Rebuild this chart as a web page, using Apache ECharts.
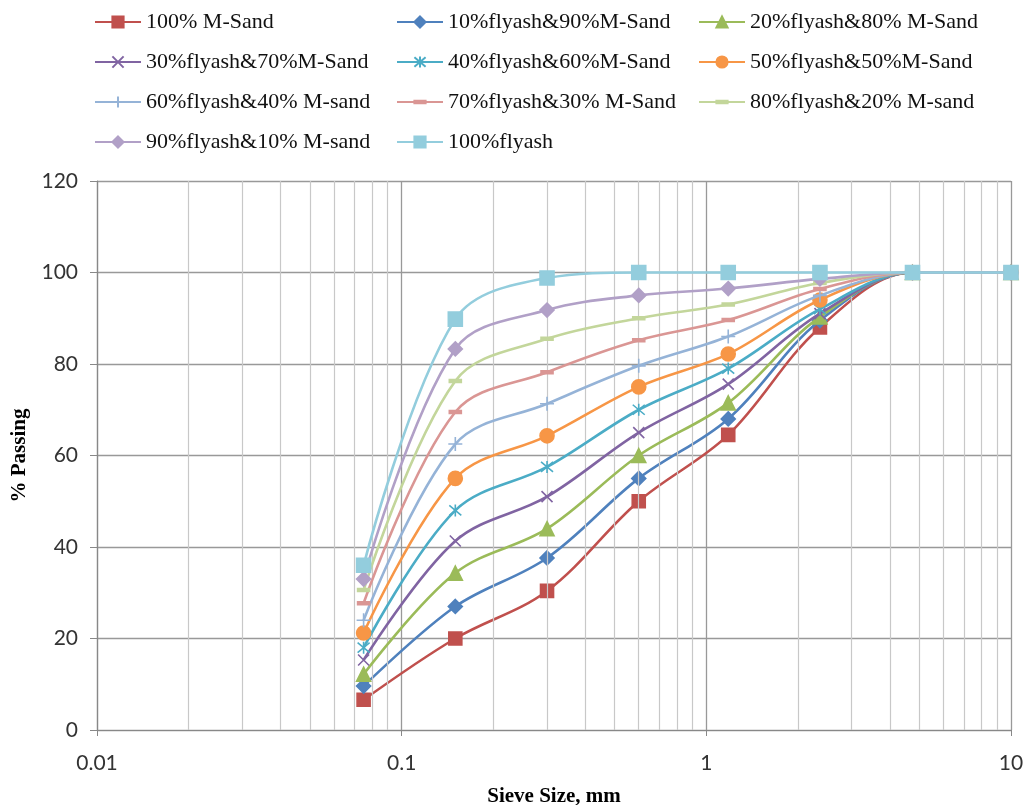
<!DOCTYPE html>
<html>
<head>
<meta charset="utf-8">
<script src="https://cdn.jsdelivr.net/npm/echarts@6/dist/echarts.min.js"></script>
<style>
html,body{margin:0;padding:0;background:#fff;}
#chart{width:1025px;height:805px;}
</style>
</head>
<body>
<div id="chart"></div>
<script>
// Sieve sizes (mm)
const sieveSizes = [0.075, 0.15, 0.3, 0.6, 1.18, 2.36, 4.75, 10];

// % passing for each blend
const mSand100   = [6.6, 20, 30.4, 50, 64.5, 88, 100, 100];
const fa10ms90   = [9.6, 27, 37.6, 55, 68, 89.5, 100, 100];
const fa20ms80   = [12.2, 34.3, 44, 60, 71.5, 90.3, 100, 100];
const fa30ms70   = [15.3, 41.3, 51, 65, 75.6, 91, 100, 100];
const fa40ms60   = [18, 48, 57.5, 70, 79, 92, 100, 100];
const fa50ms50   = [21.2, 55, 64.3, 75, 82.2, 94, 100, 100];
const fa60ms40   = [24, 62.5, 71.3, 79.6, 86, 95, 100, 100];
const fa70ms30   = [27.7, 69.5, 78.2, 85.2, 89.6, 96.4, 100, 100];
const fa80ms20   = [30.6, 76.3, 85.5, 90, 93, 97.7, 100, 100];
const fa90ms10   = [33, 83.3, 91.8, 95, 96.5, 98.6, 100, 100];
const flyash100  = [36, 89.8, 98.8, 100, 100, 100, 100, 100];

const seriesNames = [
  '100% M-Sand', '10%flyash&90%M-Sand', '20%flyash&80% M-Sand',
  '30%flyash&70%M-Sand', '40%flyash&60%M-Sand', '50%flyash&50%M-Sand',
  '60%flyash&40% M-sand', '70%flyash&30% M-Sand', '80%flyash&20% M-sand',
  '90%flyash&10% M-sand', '100%flyash'
];
const seriesValues = [mSand100, fa10ms90, fa20ms80, fa30ms70, fa40ms60, fa50ms50,
  fa60ms40, fa70ms30, fa80ms20, fa90ms10, flyash100];

const colors = ['#C0504D', '#4F81BD', '#9BBB59', '#8064A2', '#4BACC6', '#F79646',
  '#95B3D7', '#DA9694', '#C3D69B', '#B1A0C7', '#93CDDD'];

// thin horizontal bar inside a square box, so it keeps its shape in the legend too
const dashPath = 'path://M0,0M0,3.8L10,3.8L10,6.2L0,6.2ZM10,10';
const symbols = [
  {symbol: 'rect', size: 13},
  {symbol: 'diamond', size: 14},
  {symbol: 'triangle', size: 14},
  {symbol: 'path://M0,0L10,10M10,0L0,10', size: 11},
  {symbol: 'path://M0,0L10,10M10,0L0,10M5,-1L5,11', size: 12},
  {symbol: 'circle', size: 14},
  {symbol: 'path://M5,0L5,10M0,5L10,5', size: 14},
  {symbol: dashPath, size: 12},
  {symbol: dashPath, size: 12},
  {symbol: 'diamond', size: 14},
  {symbol: 'rect', size: 14}
];

// minor log gridlines (2..9 within each decade)
const minorGrid = [];
for (const d of [0.01, 0.1, 1]) {
  for (let k = 2; k <= 9; k++) minorGrid.push(+(d * k).toPrecision(3));
}

const chart = echarts.init(document.getElementById('chart'));

const series = seriesNames.map((name, i) => ({
  name: name,
  type: 'line',
  smooth: 0.35,
  data: sieveSizes.map((x, j) => [x, seriesValues[i][j]]),
  symbol: symbols[i].symbol,
  symbolSize: symbols[i].size,
  lineStyle: {color: colors[i], width: 2.6},
  itemStyle: {color: colors[i], borderColor: colors[i], borderWidth: 1.6},
  emphasis: {disabled: true},
  z: 3 + i
}));

series.push({
  name: 'grid',
  type: 'line',
  data: [],
  silent: true,
  z: 1,
  markLine: {
    silent: true,
    symbol: 'none',
    label: {show: false},
    lineStyle: {color: '#C8C8C8', width: 1.2, type: 'solid'},
    data: minorGrid.map(v => ({xAxis: v}))
  }
});

const legendFont = {fontFamily: 'Liberation Serif', fontSize: 22, lineHeight: 22, color: '#111'};
const legendCols = [[0, 3, 6, 9], [1, 4, 7, 10], [2, 5, 8]];
const legendLeft = [89, 391, 693];

const legends = legendCols.map((col, c) => ({
  orient: 'vertical',
  left: legendLeft[c],
  top: 6,
  itemWidth: 46,
  itemHeight: 14,
  itemGap: 18,
  textStyle: legendFont,
  data: col.map(i => seriesNames[i]),
  selectedMode: false
}));

const tickFont = {fontFamily: 'Lato', fontSize: 21, color: '#333'};
const titleFont = {fontFamily: 'Liberation Serif', fontWeight: 'bold', fontSize: 21, color: '#000'};

chart.setOption({
  animation: false,
  backgroundColor: '#fff',
  legend: legends,
  grid: {left: 97, right: 14, top: 181, bottom: 75, containLabel: false, outerBoundsMode: 'none'},
  xAxis: {
    type: 'log',
    logBase: 10,
    min: 0.01,
    max: 10,
    name: 'Sieve Size, mm',
    nameLocation: 'middle',
    nameGap: 56,
    nameTextStyle: titleFont,
    axisLine: {lineStyle: {color: '#888', width: 1.2}},
    axisTick: {show: true, length: 6, lineStyle: {color: '#888'}},
    axisLabel: Object.assign({margin: 23, formatter: v => String(v)}, tickFont),
    splitLine: {show: true, lineStyle: {color: '#999', width: 1.3}}
  },
  yAxis: {
    type: 'value',
    min: 0,
    max: 120,
    interval: 20,
    name: '% Passing',
    nameLocation: 'middle',
    nameGap: 64,
    nameTextStyle: titleFont,
    axisLine: {show: true, lineStyle: {color: '#888', width: 1.2}},
    axisTick: {show: true, length: 7, lineStyle: {color: '#888'}},
    axisLabel: Object.assign({margin: 19}, tickFont),
    splitLine: {show: true, lineStyle: {color: '#999', width: 1.3}}
  },
  series: series
});
</script>
</body>
</html>
